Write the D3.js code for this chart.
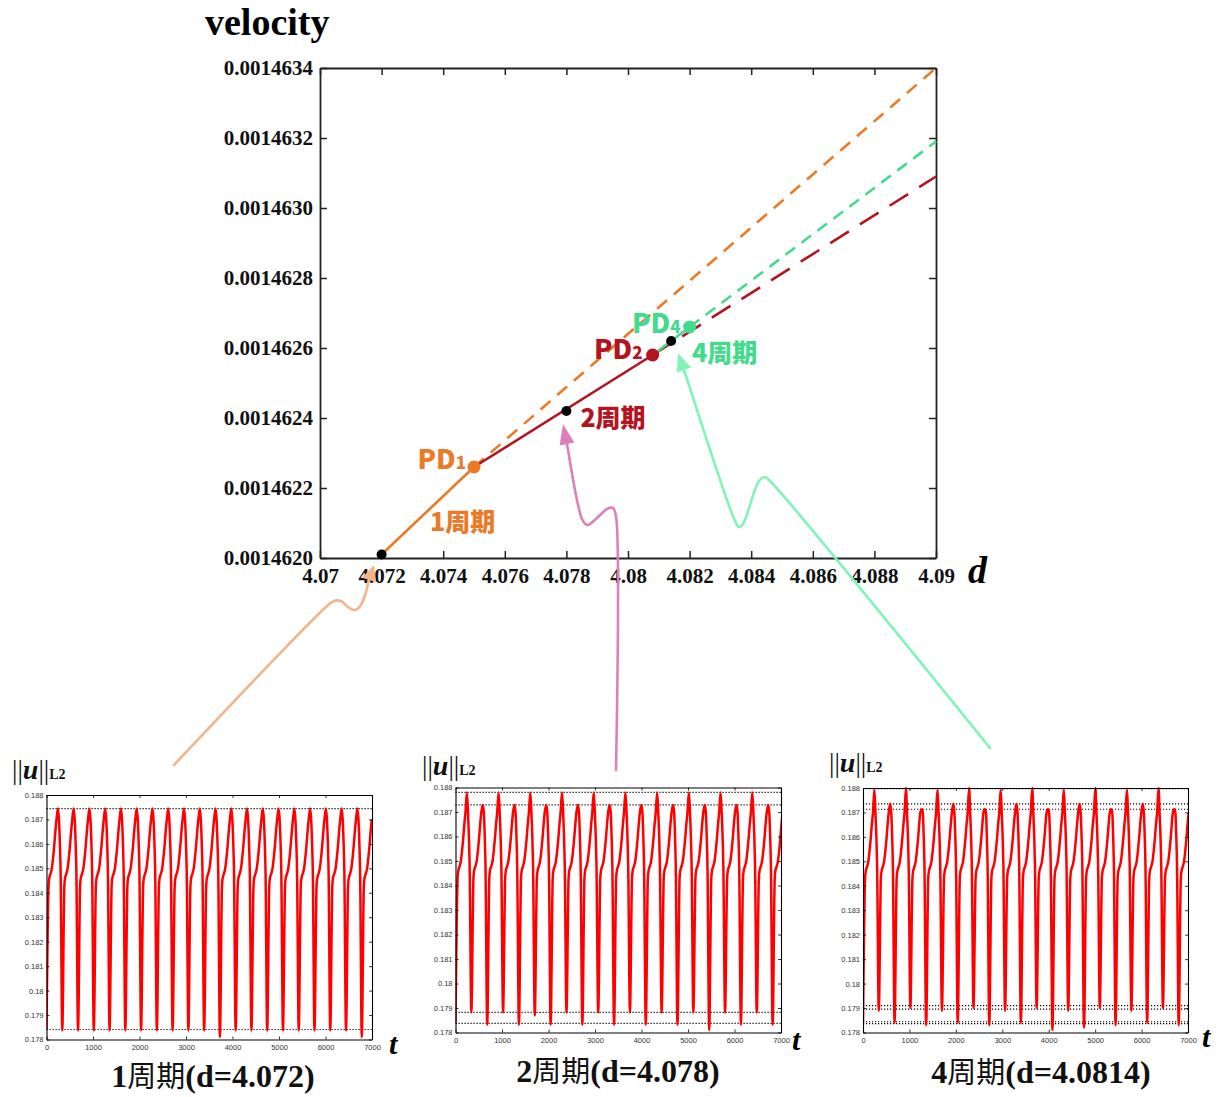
<!DOCTYPE html>
<html>
<head>
<meta charset="utf-8">
<script src="https://cdn.jsdelivr.net/npm/d3@7"></script>
<style>
  body { margin: 0; background: #fff; }
  svg { display: block; }
</style>
</head>
<body>
<svg id="fig" width="1222" height="1097"></svg>
<script>
//------------------------------------------------------
// data : bifurcation diagram (d vs velocity)
//------------------------------------------------------
var dTicks = [4.07, 4.072, 4.074, 4.076, 4.078, 4.08, 4.082, 4.084, 4.086, 4.088, 4.09]
var velTicks = [0.0014620, 0.0014622, 0.0014624, 0.0014626, 0.0014628, 0.0014630, 0.0014632, 0.0014634]

var period1Stable = [[4.072, 0.00146201], [4.075, 0.00146226]]
var period1Unstable = [[4.075, 0.00146226], [4.09, 0.0014634]]
var period2Stable = [[4.075, 0.00146226], [4.0808, 0.00146258]]
var period2Unstable = [[4.0808, 0.00146258], [4.09, 0.00146309]]
var period4Stable = [[4.0808, 0.00146258], [4.082, 0.00146266]]
var period4Unstable = [[4.082, 0.00146266], [4.09, 0.00146319]]

var pdNames = ["1", "2", "4"]
var pdPoints = [[4.075, 0.00146226], [4.0808, 0.00146258], [4.082, 0.00146266]]
var samplePoints = [[4.072, 0.00146201], [4.078, 0.00146242], [4.0814, 0.00146262]]
var periodNames = ["1周期", "2周期", "4周期"]

//------------------------------------------------------
// data : time series ||u||L2
//------------------------------------------------------
var tTicks = [0, 1000, 2000, 3000, 4000, 5000, 6000, 7000]
var normTicks = [0.178, 0.179, 0.18, 0.181, 0.182, 0.183, 0.184, 0.185, 0.186, 0.187, 0.188]

// one oscillation: [time after trough, value]
var riseShape = [[45, 0.1843], [60, 0.1846], [90, 0.1848], [115, 0.1850], [140, 0.1854], [165, 0.1859], [190, 0.1865], [215, 0.1870]]
var peakTime = 245
var fallShape = [[268, 0.1870], [288, 0.1860], [303, 0.1849]]

var periods = [339, 341, 340]

var peaks1 = [0.18745, 0.18745, 0.18745, 0.18745, 0.18745, 0.18745, 0.18745, 0.18745, 0.18745, 0.18745,
    0.18745, 0.18745, 0.18745, 0.18745, 0.18745, 0.18745, 0.18745, 0.18745, 0.18745, 0.18745]
var troughs1 = [0.1784, 0.17837, 0.17837, 0.17837, 0.17837, 0.17837, 0.17837, 0.17837, 0.17837, 0.17837, 0.17837,
    0.1781, 0.17837, 0.17837, 0.17837, 0.17837, 0.17837, 0.17837, 0.17837, 0.17837, 0.1781]

var peaks2 = [0.1878, 0.18729, 0.1878, 0.18729, 0.1878, 0.18729, 0.1878, 0.18729, 0.1878, 0.18729,
    0.1878, 0.18729, 0.1878, 0.18729, 0.1878, 0.18729, 0.1878, 0.18729, 0.1878, 0.18729]
var troughs2 = [0.1784, 0.17882, 0.17832, 0.17882, 0.17832, 0.1787, 0.17832, 0.17882, 0.17832, 0.17882, 0.17832,
    0.17882, 0.17832, 0.17882, 0.17832, 0.17882, 0.1781, 0.17882, 0.17832, 0.17882, 0.17832]

var peaks4 = [0.18793, 0.18736, 0.188, 0.18713, 0.18793, 0.18736, 0.188, 0.18713, 0.18793, 0.18736,
    0.188, 0.18713, 0.18793, 0.18736, 0.188, 0.18713, 0.18793, 0.18736, 0.188, 0.18713]
var troughs4 = [0.1784, 0.17889, 0.1784, 0.179, 0.1783, 0.17889, 0.1784, 0.179, 0.1783, 0.17889, 0.1784,
    0.179, 0.1781, 0.17889, 0.1782, 0.179, 0.1783, 0.17889, 0.1784, 0.179, 0.1783]

var refLines1 = [0.18744, 0.17841]
var refLines2 = [0.1878, 0.18729, 0.17882, 0.17837]
var refLines4 = [0.18797, 0.18735, 0.18713, 0.1791, 0.17896, 0.17844, 0.17836]

var panelTitles = [["1", "周期", "(d=4.072)"], ["2", "周期", "(d=4.078)"], ["4", "周期", "(d=4.0814)"]]

//------------------------------------------------------
// colours / fonts
//------------------------------------------------------
var orange = "#eb7a27",
    darkRed = "#b3141f",
    green = "#44da8d"
var serif = "'Liberation Serif', 'Times New Roman', serif"
var rounded = "'Noto Sans CJK JP', 'Noto Sans', sans-serif"

var svg = d3.select("#fig")

//------------------------------------------------------
// main chart
//------------------------------------------------------
var box = { left: 320, right: 936, top: 68, bottom: 558 }
var x = d3.scaleLinear().domain(d3.extent(dTicks)).range([box.left, box.right])
var y = d3.scaleLinear().domain(d3.extent(velTicks)).range([box.bottom, box.top])

var main = svg.append("g")

function styleAxis(sel, labelFont) {
    sel.select(".domain").attr("stroke", "#222").attr("stroke-width", 1.8)
    sel.selectAll(".tick line").attr("stroke", "#222").attr("stroke-width", 1.5)
    sel.selectAll("text").style("font", labelFont).attr("fill", "#111")
}

var mainFont = "bold 21px " + serif
main.append("g").attr("transform", "translate(0," + box.bottom + ")")
    .call(d3.axisBottom(x).tickValues(dTicks).tickFormat(d3.format(".3~f"))
        .tickSizeInner(-7).tickSizeOuter(0).tickPadding(10))
    .call(styleAxis, mainFont)
main.append("g").attr("transform", "translate(0," + box.top + ")")
    .call(d3.axisTop(x).tickValues(dTicks).tickFormat("").tickSizeInner(-7).tickSizeOuter(0))
    .call(styleAxis, mainFont)
main.append("g").attr("transform", "translate(" + box.left + ",0)")
    .call(d3.axisLeft(y).tickValues(velTicks).tickFormat(d3.format(".7f"))
        .tickSizeInner(-7).tickSizeOuter(0).tickPadding(7))
    .call(styleAxis, mainFont)
main.append("g").attr("transform", "translate(" + box.right + ",0)")
    .call(d3.axisRight(y).tickValues(velTicks).tickFormat("").tickSizeInner(-7).tickSizeOuter(0))
    .call(styleAxis, mainFont)

main.append("text").attr("x", 205).attr("y", 35)
    .style("font", "bold 38px " + serif).text("velocity")
main.append("text").attr("x", 968).attr("y", 583)
    .style("font", "italic bold 38px " + serif).text("d")

//------------------------------------------------------
// connector arrows (annotation, screen coords)
//------------------------------------------------------
var arrows = [
    { color: "#f3b48a", tip: [374, 565], pts: [[174, 765], [326, 607], [334, 601], [341, 601], [348, 607], [355, 610], [361, 605], [366, 592], [369, 580]] },
    { color: "#dc80bd", tip: [563, 424], pts: [[616, 770], [616, 516], [613, 508], [607, 509], [597, 518], [587, 525], [582, 519], [567, 444]] },
    { color: "#80f4b6", tip: [678, 353], pts: [[990, 748], [771, 482], [765, 477], [759, 481], [743, 524], [739, 527], [735, 521], [684, 370]] }
]
var arrowLine = d3.line().curve(d3.curveCatmullRom.alpha(0.5))
arrows.forEach(function (a) {
    var last = a.pts[a.pts.length - 1]
    var dx = a.tip[0] - last[0], dy = a.tip[1] - last[1]
    var len = Math.sqrt(dx * dx + dy * dy)
    var ux = dx / len, uy = dy / len
    var hw = 7.5
    main.append("path")
        .attr("d", arrowLine(a.pts.concat([[last[0] + ux * 4, last[1] + uy * 4]])))
        .attr("fill", "none").attr("stroke", a.color).attr("stroke-width", 2.6)
        .attr("stroke-linecap", "round").attr("stroke-linejoin", "round")
    main.append("path")
        .attr("d", "M" + a.tip[0] + "," + a.tip[1] +
            "L" + (last[0] - uy * hw) + "," + (last[1] + ux * hw) +
            "L" + (last[0] + uy * hw) + "," + (last[1] - ux * hw) + "Z")
        .attr("fill", a.color)
})

//------------------------------------------------------
// branches
//------------------------------------------------------
var line = d3.line().x(function (d) { return x(d[0]) }).y(function (d) { return y(d[1]) })
var branches = [
    { data: period1Unstable, color: orange, dash: "13,9" },
    { data: period2Unstable, color: darkRed, dash: "22,13" },
    { data: period4Unstable, color: green, dash: "12,8" },
    { data: period1Stable, color: orange, dash: null },
    { data: period2Stable, color: darkRed, dash: null },
    { data: period4Stable, color: green, dash: null }
]
branches.forEach(function (b) {
    main.append("path").attr("d", line(b.data))
        .attr("fill", "none").attr("stroke", b.color).attr("stroke-width", 2.6)
        .attr("stroke-dasharray", b.dash)
})

var pdColors = [orange, darkRed, green]
main.selectAll(".pd").data(pdPoints).enter().append("circle")
    .attr("cx", function (d) { return x(d[0]) })
    .attr("cy", function (d) { return y(d[1]) })
    .attr("r", 6.5)
    .attr("fill", function (d, i) { return pdColors[i] })

main.selectAll(".sample").data(samplePoints).enter().append("circle")
    .attr("cx", function (d) { return x(d[0]) })
    .attr("cy", function (d) { return y(d[1]) })
    .attr("r", 5)
    .attr("fill", "#000")

// PD labels, offsets from their points
var pdOffsets = [[-8, 2], [-10, 4], [-9, 6]]
pdPoints.forEach(function (p, i) {
    var t = main.append("text")
        .attr("x", x(p[0]) + pdOffsets[i][0]).attr("y", y(p[1]) + pdOffsets[i][1])
        .attr("text-anchor", "end")
        .style("font-family", rounded).style("font-weight", 900)
        .attr("fill", pdColors[i])
    t.append("tspan").style("font-size", "27px").text("PD")
    t.append("tspan").style("font-size", "17px").text(pdNames[i])
})

var periodAnchors = [pdPoints[0], samplePoints[1], samplePoints[2]]
var periodOffsets = [[-44, 64], [14, 16], [21, 21]]
periodNames.forEach(function (s, i) {
    main.append("text")
        .attr("x", x(periodAnchors[i][0]) + periodOffsets[i][0])
        .attr("y", y(periodAnchors[i][1]) + periodOffsets[i][1])
        .style("font-family", rounded).style("font-weight", 900).style("font-size", "25px")
        .attr("fill", pdColors[i])
        .text(s)
})

//------------------------------------------------------
// time series panels
//------------------------------------------------------
function buildSeries(period, peaks, troughs) {
    var pts = []
    troughs.forEach(function (tv, k) {
        var t0 = k * period
        pts.push([t0, tv])
        riseShape.forEach(function (p) { pts.push([t0 + p[0], p[1]]) })
        if (k < peaks.length) {
            pts.push([t0 + peakTime, peaks[k]])
            fallShape.forEach(function (p) { pts.push([t0 + p[0], p[1]]) })
        }
    })
    return pts
}

var panels = [
    { box: { left: 46.5, right: 372, top: 795, bottom: 1039.5 }, series: buildSeries(periods[0], peaks1, troughs1), refs: refLines1,
      label: [12, 779], tLabel: [389, 1054], title: [213, 1087] },
    { box: { left: 455.5, right: 781, top: 787.5, bottom: 1032.5 }, series: buildSeries(periods[1], peaks2, troughs2), refs: refLines2,
      label: [422, 775], tLabel: [792, 1050], title: [618, 1082] },
    { box: { left: 863, right: 1188, top: 788, bottom: 1032.5 }, series: buildSeries(periods[2], peaks4, troughs4), refs: refLines4,
      label: [829, 772], tLabel: [1202, 1047], title: [1041, 1083] }
]

var smallFont = "7.5px 'Liberation Sans', Arial, sans-serif"

panels.forEach(function (p, i) {
    var b = p.box
    var px = d3.scaleLinear().domain(d3.extent(tTicks)).range([b.left, b.right])
    var py = d3.scaleLinear().domain(d3.extent(normTicks)).range([b.bottom, b.top])
    var g = svg.append("g")

    g.append("clipPath").attr("id", "clip" + i).append("rect")
        .attr("x", b.left).attr("y", b.top - 3).attr("width", b.right - b.left).attr("height", b.bottom - b.top + 6)

    // reference dotted lines
    g.selectAll(".ref").data(p.refs).enter().append("line")
        .attr("x1", b.left).attr("x2", b.right)
        .attr("y1", function (d) { return py(d) }).attr("y2", function (d) { return py(d) })
        .attr("stroke", "#000").attr("stroke-width", 1.2).attr("stroke-dasharray", "1.2,1.8")

    var sLine = d3.line().curve(d3.curveMonotoneX)
        .x(function (d) { return px(d[0]) }).y(function (d) { return py(d[1]) })
    g.append("path").attr("d", sLine(p.series))
        .attr("clip-path", "url(#clip" + i + ")")
        .attr("fill", "none").attr("stroke", "#ff0000").attr("stroke-width", 2.5)
        .attr("stroke-linejoin", "round")

    function styleSmall(sel) {
        sel.select(".domain").attr("stroke", "#000").attr("stroke-width", 1.1)
        sel.selectAll(".tick line").attr("stroke", "#000").attr("stroke-width", 0.8)
        sel.selectAll("text").style("font", smallFont).attr("fill", "#333")
    }
    g.append("g").attr("transform", "translate(0," + b.bottom + ")")
        .call(d3.axisBottom(px).tickValues(tTicks).tickFormat(d3.format("d")).tickSizeInner(-3).tickSizeOuter(0).tickPadding(5))
        .call(styleSmall)
    g.append("g").attr("transform", "translate(0," + b.top + ")")
        .call(d3.axisTop(px).tickValues(tTicks).tickFormat("").tickSizeInner(-3).tickSizeOuter(0))
        .call(styleSmall)
    g.append("g").attr("transform", "translate(" + b.left + ",0)")
        .call(d3.axisLeft(py).tickValues(normTicks).tickFormat(d3.format(".3~f")).tickSizeInner(-3).tickSizeOuter(0).tickPadding(3))
        .call(styleSmall)
    g.append("g").attr("transform", "translate(" + b.right + ",0)")
        .call(d3.axisRight(py).tickValues(normTicks).tickFormat("").tickSizeInner(-3).tickSizeOuter(0))
        .call(styleSmall)

    // ||u||L2 label
    var lab = g.append("text").attr("x", p.label[0]).attr("y", p.label[1])
        .style("font-family", serif).attr("fill", "#111")
    lab.append("tspan").style("font-size", "27px").text("||")
    lab.append("tspan").style("font-size", "28px").style("font-weight", "bold").style("font-style", "italic").text("u")
    lab.append("tspan").style("font-size", "27px").text("||")
    lab.append("tspan").style("font-size", "14px").style("font-weight", "bold").text("L2")

    g.append("text").attr("x", p.tLabel[0]).attr("y", p.tLabel[1])
        .style("font", "italic bold 30px " + serif).text("t")

    var title = g.append("text").attr("x", p.title[0]).attr("y", p.title[1])
        .attr("text-anchor", "middle").attr("fill", "#111")
    title.append("tspan").style("font", "bold 32px " + serif).text(panelTitles[i][0])
    title.append("tspan").style("font", "400 29px " + rounded).text(panelTitles[i][1])
    title.append("tspan").style("font", "bold 32px " + serif).text(panelTitles[i][2])
})
</script>
</body>
</html>
